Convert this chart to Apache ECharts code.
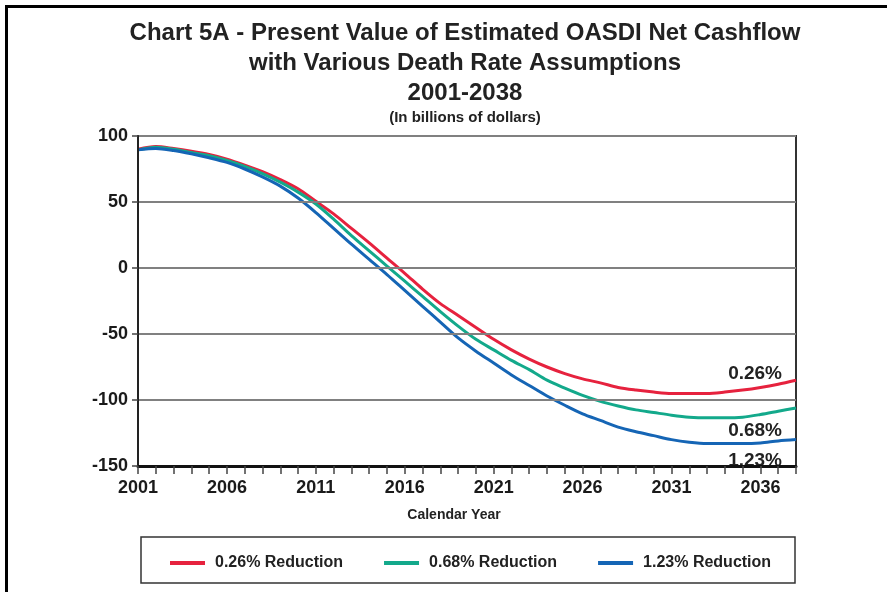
<!DOCTYPE html>
<html>
<head>
<meta charset="utf-8">
<script src="https://cdn.jsdelivr.net/npm/echarts@6/dist/echarts.min.js"></script>
<style>
html,body{margin:0;padding:0;background:#fff;}
#chart{width:887px;height:592px;}
</style>
</head>
<body>
<div id="chart"></div>
<script>
const years = [];
for (let y = 2001; y <= 2038; y++) years.push(String(y));

const seriesNames = ['0.26% Reduction', '0.68% Reduction', '1.23% Reduction'];
const endLabels = ['0.26%', '0.68%', '1.23%'];

const red026 = [90, 92, 90.5, 88.5, 86, 82.5, 78, 73, 67, 60,
  50.5, 41, 30, 19, 7.5, -4, -16, -27, -36, -45,
  -54, -62, -69, -75, -80, -84, -87, -90.5, -92.5, -94,
  -95, -95, -95, -94, -92.5, -90.5, -88, -85];

const green068 = [89.5, 91.5, 90, 87.5, 85, 81.5, 77, 71.5, 65, 57.5,
  48.5, 37, 24.5, 13, 1.5, -10, -21.5, -33, -44, -54,
  -62, -70, -77, -85, -91, -96.5, -101, -104.5, -107.5, -109.5,
  -111.5, -113, -113.5, -113.5, -113, -111, -108.5, -106];

const blue123 = [89.5, 90.5, 89, 86.5, 83.5, 80, 75, 69, 62, 53,
  42, 30, 18, 6.5, -5, -17, -29, -41, -53, -63,
  -72, -81, -89, -97, -104, -110.5, -115.5, -120.5, -124, -127,
  -130, -132, -133, -133, -133, -132.5, -131, -130];

const yTicks = { min: -150, max: 100, interval: 50 };
const colors = ['#e6223e', '#13a98b', '#1565b5'];
const values = [red026, green068, blue123];

const chart = echarts.init(document.getElementById('chart'), null, { renderer: 'canvas' });

const FONT = '"Liberation Sans", Arial, sans-serif';

const option = {
  backgroundColor: '#ffffff',
  animation: false,
  textStyle: { fontFamily: FONT },
  grid: { left: 138, right: 91, top: 136, bottom: 126, containLabel: false,
          show: true, borderColor: '#333', borderWidth: 2 },
  xAxis: {
    type: 'category', data: years, boundaryGap: false, z: 5,
    axisLine: { show: true, onZero: false, lineStyle: { color: '#111', width: 3 } },
    axisTick: { show: true, interval: 0, length: 8, lineStyle: { color: '#444', width: 1.5 } },
    axisLabel: { interval: 4, fontSize: 18, fontWeight: 'bold', color: '#1a1a1a', margin: 13, fontFamily: FONT },
    splitLine: { show: false }
  },
  yAxis: {
    type: 'value', min: yTicks.min, max: yTicks.max, interval: yTicks.interval, z: 5,
    axisLine: { show: true, lineStyle: { color: '#222', width: 2 } },
    axisTick: { show: true, length: 6, lineStyle: { color: '#444', width: 1.5 } },
    axisLabel: { fontSize: 18, fontWeight: 'bold', color: '#1a1a1a', margin: 10, fontFamily: FONT },
    splitLine: { show: true, lineStyle: { color: '#808080', width: 2 } }
  },
  legend: {
    left: 165, top: 550, itemWidth: 35, itemHeight: 4, itemGap: 41,
    icon: 'rect',
    textStyle: { fontSize: 16, fontWeight: 'bold', color: '#222', fontFamily: FONT, padding: [0, 0, 0, 5] },
    data: seriesNames
  },
  series: seriesNames.map((n, i) => ({
    name: n, type: 'line', data: values[i], symbol: 'none', smooth: 0.3,
    lineStyle: { color: colors[i], width: 3 }, itemStyle: { color: colors[i] }, z: 3
  })),
  graphic: [
    { type: 'text', x: 465, y: 21, style: { text: 'Chart 5A - Present Value of Estimated OASDI Net Cashflow', font: 'bold 24px ' + FONT, fill: '#222', textAlign: 'center' } },
    { type: 'text', x: 465, y: 51, style: { text: 'with Various Death Rate Assumptions', font: 'bold 24px ' + FONT, fill: '#222', textAlign: 'center' } },
    { type: 'text', x: 465, y: 81, style: { text: '2001-2038', font: 'bold 24px ' + FONT, fill: '#222', textAlign: 'center' } },
    { type: 'text', x: 465, y: 110, style: { text: '(In billions of dollars)', font: 'bold 15px ' + FONT, fill: '#222', textAlign: 'center' } },
    { type: 'text', x: 454, y: 508, style: { text: 'Calendar Year', font: 'bold 14px ' + FONT, fill: '#222', textAlign: 'center' } },
    { type: 'text', right: 105, top: 364, z: 1, style: { text: endLabels[0], font: 'bold 19px ' + FONT, fill: '#222' } },
    { type: 'text', right: 105, top: 421, z: 1, style: { text: endLabels[1], font: 'bold 19px ' + FONT, fill: '#222' } },
    { type: 'text', right: 105, top: 451, z: 1, style: { text: endLabels[2], font: 'bold 19px ' + FONT, fill: '#222' } },
    { type: 'rect', shape: { x: 141, y: 537, width: 654, height: 46 }, style: { fill: 'none', stroke: '#333', lineWidth: 1.5 } },
    { type: 'line', shape: { x1: 6.5, y1: 6.5, x2: 887, y2: 6.5 }, style: { stroke: '#000', lineWidth: 3 } },
    { type: 'line', shape: { x1: 6.5, y1: 5, x2: 6.5, y2: 592 }, style: { stroke: '#000', lineWidth: 3 } }
  ]
};
chart.setOption(option);
</script>
</body>
</html>
